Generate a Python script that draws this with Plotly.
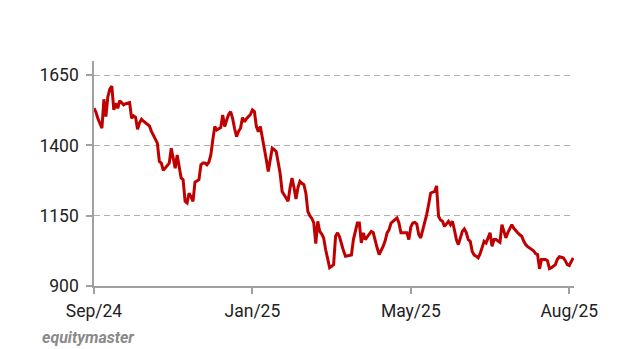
import plotly.graph_objects as go

# Trading-day index and price values
day = list(range(243))
price = [
    1532, 1518, 1495, 1475, 1461, 1564, 1502, 1573, 1600, 1611,
    1526, 1550, 1532, 1559, 1552, 1544, 1548, 1550, 1552, 1496,
    1505, 1500, 1457, 1480, 1493, 1486, 1481, 1476, 1469, 1450,
    1437, 1420, 1408, 1343, 1337, 1311, 1320, 1330, 1337, 1390,
    1355, 1319, 1366, 1330, 1284, 1278, 1201, 1195, 1230, 1218,
    1201, 1269, 1275, 1278, 1331, 1337, 1337, 1331, 1340, 1366,
    1420, 1467, 1455, 1460, 1463, 1508, 1467, 1490, 1510, 1520,
    1496, 1460, 1431, 1450, 1461, 1499, 1484, 1495, 1502, 1510,
    1526, 1520, 1467, 1449, 1467, 1430, 1400, 1350, 1307, 1343,
    1390, 1385, 1378, 1340, 1300, 1236, 1225, 1210, 1201, 1248,
    1284, 1250, 1209, 1250, 1272, 1265, 1260, 1230, 1165, 1150,
    1140, 1124, 1051, 1130, 1094, 1085, 1070, 1029, 995, 965,
    970, 976, 1077, 1089, 1075, 1047, 1025, 1006, 1008, 1008,
    1010, 1065, 1095, 1124, 1124, 1053, 1089, 1065, 1075, 1086,
    1094, 1090, 1060, 1035, 1012, 1025, 1041, 1060, 1089, 1100,
    1124, 1130, 1138, 1142, 1124, 1089, 1089, 1089, 1089, 1065,
    1110, 1124, 1126, 1120, 1083, 1071, 1100, 1118, 1154, 1190,
    1230, 1234, 1236, 1256, 1148, 1135, 1130, 1112, 1120, 1130,
    1118, 1130, 1100, 1065, 1047, 1070, 1094, 1103, 1090, 1065,
    1059, 1023, 1010, 1006, 1000, 1015, 1035, 1059, 1053, 1070,
    1089, 1041, 1065, 1065, 1060, 1055, 1118, 1095, 1071, 1090,
    1105, 1118, 1105, 1095, 1089, 1082, 1077, 1060, 1047, 1040,
    1035, 1029, 1025, 1015, 1012, 961, 994, 994, 994, 990,
    962, 965, 972, 976, 995, 1004, 1002, 1000, 990, 976,
    973, 985, 1000,
]

x_tick_pos = [0, 80, 160, 240]
x_tick_labels = ["Sep/24", "Jan/25", "May/25", "Aug/25"]
y_ticks = [900, 1150, 1400, 1650]

L, R, T, B = 94, 45, 61, 63
W, H = 619, 349

fig = go.Figure()
fig.add_trace(go.Scatter(
    x=day, y=price, mode="lines",
    line=dict(color="#C00000", width=3),
    hoverinfo="skip", showlegend=False,
))

fig.update_layout(
    width=W, height=H,
    margin=dict(l=L, r=R, t=T, b=B),
    paper_bgcolor="white", plot_bgcolor="white",
    font=dict(family="Roboto, Arial, sans-serif", size=17.5, color="#222222"),
    xaxis=dict(
        range=[0, 242.4],
        tickmode="array", tickvals=x_tick_pos, ticktext=x_tick_labels,
        showgrid=False, zeroline=False,
        showline=True, linecolor="#a0a0a0", linewidth=1.5,
        ticks="outside", ticklen=6, tickcolor="#a0a0a0", tickwidth=1.5,
        tickfont=dict(size=17.5, color="#222222"),
        ticklabelstandoff=2,
    ),
    yaxis=dict(
        range=[900, 1700],
        tickmode="array", tickvals=y_ticks,
        showgrid=True, gridcolor="#b0b0b0", gridwidth=1.3, griddash="6px,4px",
        zeroline=False,
        showline=True, linecolor="#a0a0a0", linewidth=1.5,
        ticks="outside", ticklen=6, tickcolor="#a0a0a0", tickwidth=1.5,
        tickfont=dict(size=17.5, color="#222222"),
        ticklabelstandoff=4,
    ),
    annotations=[dict(
        text="<b><i>equitymaster</i></b>",
        x=(40 - L) / (W - L - R), y=(H - B - 337) / (H - T - B),
        xref="paper", yref="paper", showarrow=False,
        xanchor="left", yanchor="middle",
        font=dict(family="Roboto, Arial, sans-serif", size=16, color="#8a8a8a"),
    )],
)

fig.write_html("out.html")
